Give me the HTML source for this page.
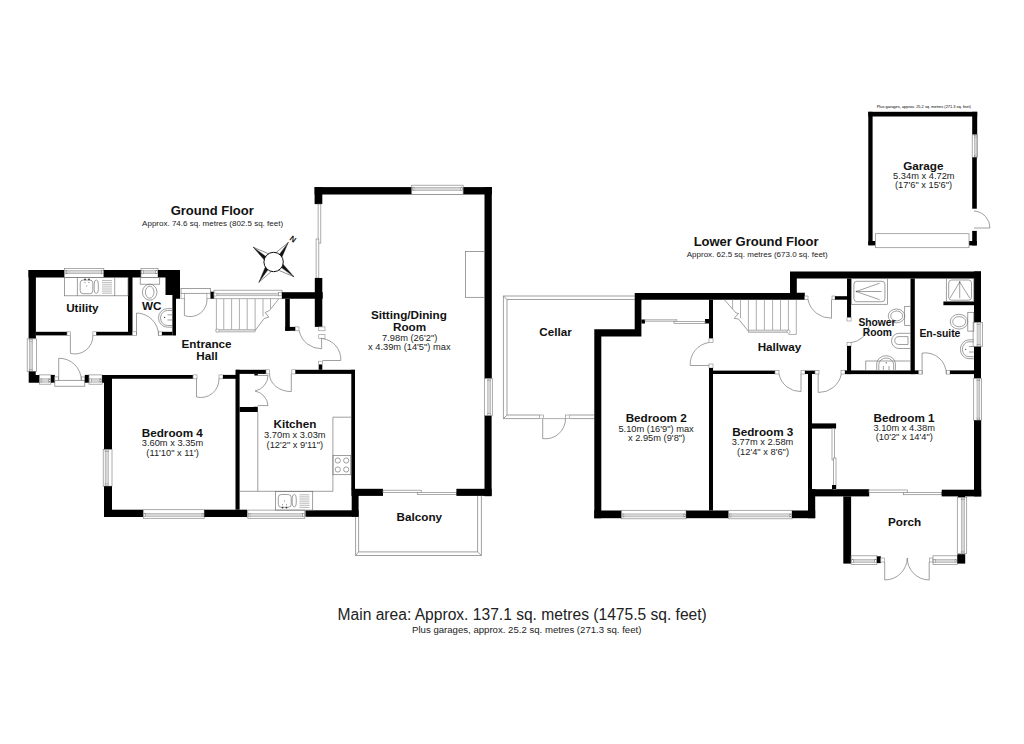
<!DOCTYPE html>
<html><head><meta charset="utf-8"><title>Floor plan</title>
<style>
html,body{margin:0;padding:0;background:#fff;width:1024px;height:744px;overflow:hidden}
svg{display:block}
text{font-family:"Liberation Sans",sans-serif}
.w{fill:#000}
.l{fill:none;stroke:#777;stroke-width:0.7}
.r2{rx:2px}
.r3{rx:3px}
.r2e{rx:2px;ry:4px}
.dr{fill:none;stroke:#999;stroke-width:0.7}
.wf{fill:#fff;stroke:#888;stroke-width:0.7}
.wi{fill:#d6d6d6;stroke:#999;stroke-width:0.5}
.jb{fill:#fff;stroke:#888;stroke-width:0.6}
.st{fill:none;stroke:#999;stroke-width:0.8}
</style></head>
<body>
<svg width="1024" height="744" viewBox="0 0 1024 744">
<rect width="1024" height="744" fill="#fff"/>
<rect x="28.50" y="270.00" width="36.00" height="7.50" class="w"/>
<rect x="64.50" y="268.60" width="39.30" height="8.90" class="wf"/>
<rect x="66.50" y="270.56" width="35.30" height="3.20" class="wi"/>
<rect x="65.10" y="270.56" width="1.6" height="3.20" class="jb"/>
<rect x="101.60" y="270.56" width="1.6" height="3.20" class="jb"/>
<rect x="103.80" y="270.00" width="37.20" height="7.50" class="w"/>
<rect x="141.00" y="268.60" width="17.00" height="8.90" class="wf"/>
<rect x="143.00" y="270.56" width="13.00" height="3.20" class="wi"/>
<rect x="141.60" y="270.56" width="1.6" height="3.20" class="jb"/>
<rect x="155.80" y="270.56" width="1.6" height="3.20" class="jb"/>
<path d="M158 270H180V298.75H176V335.4H172.4V295H165.5V277.5H158Z" class="w"/>
<rect x="28.60" y="270.00" width="7.30" height="68.80" class="w"/>
<rect x="128.00" y="277.00" width="4.50" height="58.40" class="w"/>
<rect x="35.90" y="331.80" width="31.10" height="3.60" class="w"/>
<rect x="67.00" y="331.80" width="3.40" height="3.60" class="jb"/>
<rect x="92.90" y="331.80" width="3.40" height="3.60" class="jb"/>
<rect x="96.30" y="331.80" width="31.70" height="3.60" class="w"/>
<path d="M70.40 335.40L70.40 353.40A18.00 18.00 0 0 0 92.90 335.40" class="l"/>
<rect x="132.50" y="331.80" width="4.00" height="3.60" class="jb"/>
<rect x="158.60" y="331.80" width="3.40" height="3.60" class="jb"/>
<rect x="162.00" y="331.80" width="10.40" height="3.60" class="w"/>
<path d="M136.50 335.40L136.50 313.00A22.40 22.40 0 0 1 158.60 335.40" class="l"/>
<rect x="64.50" y="277.50" width="63.50" height="18.30" class="l"/>
<path d="M77.4 277.5V295.8M114.7 277.5V295.8" class="l"/>
<rect x="80.20" y="280.00" width="12.60" height="13.70" class="l r3"/>
<rect x="94.20" y="280.00" width="4.10" height="13.40" class="l r2e"/>
<path d="M102 280.6H112 M102 282.7H112 M102 284.8H112 M102 286.9H112 M102 289.0H112 M102 291.1H112 M102 293.2H112" class="dr"/>
<circle cx="85" cy="279.4" r="0.9" fill="#333"/>
<circle cx="89" cy="279.4" r="0.9" fill="#333"/>
<circle cx="85" cy="282.3" r="0.5" fill="#555"/>
<circle cx="89" cy="282.3" r="0.5" fill="#555"/>
<circle cx="86.8" cy="286" r="0.5" fill="#555"/>
<rect x="140.20" y="277.50" width="19.50" height="6.70" class="l"/>
<ellipse cx="149.7" cy="292.2" rx="7.3" ry="8" class="l"/>
<ellipse cx="149.7" cy="292.2" rx="4.3" ry="6" class="l"/>
<path d="M172.1 308.6H167.5A9 9.3 0 0 0 167.5 327.2H172.1" class="l"/>
<path d="M172.1 310.5H167.5A7 7.5 0 0 0 167.5 325.5H172.1" class="l"/>
<circle cx="164.6" cy="317.4" r="0.6" fill="#333"/>
<path d="M167.5 314.8H172M167.5 320H172" class="l"/>
<rect x="27.20" y="338.80" width="9.20" height="32.70" class="wf"/>
<rect x="29.22" y="340.80" width="3.31" height="28.70" class="wi"/>
<rect x="29.22" y="339.40" width="3.31" height="1.6" class="jb"/>
<rect x="29.22" y="369.30" width="3.31" height="1.6" class="jb"/>
<path d="M28.7 371.5H35.7V374.9H39.6V382.7H28.7Z" class="w"/>
<rect x="39.60" y="374.90" width="11.30" height="9.30" class="wf"/>
<rect x="41.60" y="378.81" width="7.30" height="3.35" class="wi"/>
<rect x="40.20" y="378.81" width="1.6" height="3.35" class="jb"/>
<rect x="48.70" y="378.81" width="1.6" height="3.35" class="jb"/>
<rect x="50.90" y="374.90" width="3.90" height="7.80" class="w"/>
<rect x="54.80" y="380.30" width="30.00" height="5.90" class="l"/>
<rect x="54.80" y="376.90" width="3.50" height="3.40" class="jb"/>
<rect x="81.30" y="376.90" width="3.50" height="3.40" class="jb"/>
<path d="M58.70 380.30L58.70 358.30A22.00 22.00 0 0 1 81.30 380.30" class="l"/>
<rect x="84.80" y="374.90" width="4.20" height="7.80" class="w"/>
<rect x="89.00" y="374.90" width="13.10" height="9.30" class="wf"/>
<rect x="91.00" y="378.81" width="9.10" height="3.35" class="wi"/>
<rect x="89.60" y="378.81" width="1.6" height="3.35" class="jb"/>
<rect x="99.90" y="378.81" width="1.6" height="3.35" class="jb"/>
<path d="M102.1 374.9H193V378.8H112V449.5H104V382.7H102.1Z" class="w"/>
<rect x="103.20" y="449.50" width="8.80" height="36.70" class="wf"/>
<rect x="105.14" y="451.50" width="3.17" height="32.70" class="wi"/>
<rect x="105.14" y="450.10" width="3.17" height="1.6" class="jb"/>
<rect x="105.14" y="484.00" width="3.17" height="1.6" class="jb"/>
<rect x="104.00" y="486.20" width="8.00" height="30.80" class="w"/>
<rect x="193.00" y="374.90" width="4.00" height="3.90" class="jb"/>
<rect x="219.00" y="374.90" width="4.00" height="3.90" class="jb"/>
<rect x="223.00" y="374.90" width="13.00" height="3.90" class="w"/>
<path d="M196.50 378.80L196.50 397.00A18.20 18.20 0 0 0 219.00 378.80" class="l"/>
<rect x="104.00" y="509.70" width="39.30" height="7.30" class="w"/>
<rect x="143.30" y="509.70" width="61.00" height="8.60" class="wf"/>
<rect x="145.30" y="513.31" width="57.00" height="3.10" class="wi"/>
<rect x="143.90" y="513.31" width="1.6" height="3.10" class="jb"/>
<rect x="202.10" y="513.31" width="1.6" height="3.10" class="jb"/>
<rect x="204.30" y="509.70" width="42.90" height="7.30" class="w"/>
<rect x="247.80" y="510.10" width="57.00" height="8.20" class="wf"/>
<rect x="249.80" y="513.54" width="53.00" height="2.95" class="wi"/>
<rect x="248.40" y="513.54" width="1.6" height="2.95" class="jb"/>
<rect x="302.60" y="513.54" width="1.6" height="2.95" class="jb"/>
<rect x="305.50" y="510.30" width="53.10" height="6.50" class="w"/>
<rect x="235.50" y="369.80" width="4.10" height="139.90" class="w"/>
<rect x="236.00" y="369.80" width="30.00" height="4.10" class="w"/>
<rect x="254.40" y="373.90" width="3.40" height="1.60" class="w"/>
<rect x="266.00" y="369.80" width="3.50" height="4.10" class="jb"/>
<rect x="291.80" y="369.80" width="3.60" height="4.10" class="jb"/>
<rect x="295.40" y="369.80" width="59.20" height="4.10" class="w"/>
<path d="M291.3 373.9V391.6A21.8 17.7 0 0 1 269.5 373.9" class="l"/>
<rect x="351.30" y="369.80" width="3.70" height="119.70" class="w"/>
<path d="M239.6 407H253.7V406.7H257.8V412.1H239.6Z" class="w"/>
<path d="M257.8 375.5H268A16 16 0 0 1 255 391M257.8 405.6H268A16 16 0 0 0 255 391" class="l"/>
<path d="M257.8 412.1V491.3M239.6 491.3H332.9V417.2H351.3" class="l"/>
<rect x="333.00" y="455.50" width="17.80" height="19.20" class="l"/>
<circle cx="337.8" cy="460.5" r="2.6" class="l"/>
<circle cx="337.8" cy="469.5" r="2.6" class="l"/>
<circle cx="346.2" cy="460.5" r="2.6" class="l"/>
<circle cx="346.2" cy="469.5" r="2.6" class="l"/>
<rect x="275.50" y="491.60" width="37.20" height="18.50" class="l"/>
<rect x="278.30" y="494.50" width="12.90" height="12.80" class="l r3"/>
<rect x="292.20" y="494.50" width="4.05" height="12.50" class="l r2e"/>
<path d="M299.4 494.8H309.5 M299.4 496.9H309.5 M299.4 499.0H309.5 M299.4 501.1H309.5 M299.4 503.2H309.5 M299.4 505.3H309.5 M299.4 507.4H309.5" class="dr"/>
<circle cx="282.5" cy="507.6" r="0.9" fill="#333"/>
<circle cx="282.5" cy="504.8" r="0.5" fill="#555"/>
<circle cx="286.5" cy="507.6" r="0.9" fill="#333"/>
<circle cx="286.5" cy="504.8" r="0.5" fill="#555"/>
<circle cx="284.5" cy="501" r="0.5" fill="#555"/>
<rect x="314.60" y="187.10" width="177.20" height="7.40" class="w"/>
<rect x="411.70" y="185.20" width="51.40" height="9.30" class="wf"/>
<rect x="413.70" y="187.25" width="47.40" height="3.35" class="wi"/>
<rect x="412.30" y="187.25" width="1.6" height="3.35" class="jb"/>
<rect x="460.90" y="187.25" width="1.6" height="3.35" class="jb"/>
<rect x="314.60" y="187.10" width="7.70" height="17.00" class="w"/>
<rect x="318.10" y="204.10" width="2.70" height="39.00" class="wf"/>
<rect x="316.10" y="239.00" width="2.70" height="39.00" class="wf"/>
<rect x="314.80" y="278.00" width="7.50" height="48.90" class="w"/>
<rect x="484.50" y="187.10" width="7.30" height="191.50" class="w"/>
<rect x="484.50" y="378.60" width="7.80" height="37.20" class="wf"/>
<rect x="487.78" y="380.60" width="2.81" height="33.20" class="wi"/>
<rect x="487.78" y="379.20" width="2.81" height="1.6" class="jb"/>
<rect x="487.78" y="413.60" width="2.81" height="1.6" class="jb"/>
<rect x="484.50" y="415.80" width="7.10" height="80.40" class="w"/>
<rect x="465.50" y="251.60" width="19.00" height="45.70" class="l"/>
<rect x="351.50" y="488.80" width="31.50" height="7.10" class="w"/>
<rect x="351.70" y="489.00" width="6.90" height="27.80" class="w"/>
<rect x="383.00" y="490.20" width="38.20" height="2.20" class="wf"/>
<rect x="417.30" y="492.40" width="39.10" height="2.10" class="wf"/>
<rect x="456.40" y="488.80" width="35.20" height="7.10" class="w"/>
<path d="M355.6 516.8V555.5H481.4V495.8M358.6 516.8V551.9H477.6V495.8M355.6 555.5L358.6 551.9M481.4 555.5L477.6 551.9" class="l"/>
<rect x="181.00" y="288.60" width="29.60" height="4.70" class="l"/>
<rect x="181.00" y="293.30" width="3.70" height="5.45" class="jb"/>
<rect x="206.90" y="293.30" width="3.70" height="5.45" class="jb"/>
<path d="M184.40 298.75L184.40 315.60A16.85 16.85 0 0 0 207.00 298.75" class="l"/>
<rect x="210.60" y="291.70" width="3.40" height="7.05" class="w"/>
<rect x="214.00" y="290.20" width="68.00" height="8.55" class="wf"/>
<rect x="216.00" y="293.20" width="64.00" height="2.60" class="wi"/>
<path d="M216.4 298.75V330.8" class="st"/>
<path d="M223.75 298.75V330.8" class="st"/>
<path d="M231.6 298.75V330.8" class="st"/>
<path d="M239.4 298.75V330.8" class="st"/>
<path d="M247.2 298.75V330.8" class="st"/>
<path d="M255.1 298.75V330.6" class="st"/>
<path d="M263 298.75V316.5" class="st"/>
<path d="M270.5 298.75V308.8" class="st"/>
<rect x="216.00" y="329.30" width="39.10" height="2.70" class="wi"/>
<circle cx="217.5" cy="330.6" r="1.6" class="jb"/>
<circle cx="215.5" cy="294.5" r="1.6" class="jb"/>
<rect x="278.6" y="292.4" width="3" height="3.4" class="jb"/>
<path d="M278.6 299.1L269.5 310.5L265.1 312.5L268.8 317.2L264.1 318.5L255.1 330.6" class="l"/>
<rect x="282.00" y="292.20" width="40.70" height="6.55" class="w"/>
<rect x="285.20" y="298.75" width="4.60" height="32.05" class="w"/>
<rect x="285.20" y="326.90" width="10.10" height="3.90" class="w"/>
<rect x="295.30" y="326.90" width="3.70" height="3.90" class="jb"/>
<rect x="318.75" y="326.90" width="6.25" height="3.90" class="jb"/>
<rect x="318.75" y="334.70" width="6.25" height="3.90" class="jb"/>
<path d="M299.2 330.8A22.5 22.5 0 0 0 321.6 348.75V337.8" class="l"/>
<path d="M322.5 338.6A21 21 0 0 1 340.8 360.5H322.5" class="l"/>
<rect x="318.70" y="361.20" width="3.60" height="3.40" class="jb"/>
<rect x="318.70" y="364.60" width="3.60" height="5.20" class="w"/>
<g><path d="M253.30 247.30L265.47 261.30L267.93 257.89Z" fill="#111" stroke="#111" stroke-width="0.4"/><path d="M253.30 247.30L270.39 254.49L267.93 257.89Z" fill="#fff" stroke="#222" stroke-width="0.5"/><path d="M288.30 242.40L281.16 258.92L277.80 256.40Z" fill="#111" stroke="#111" stroke-width="0.4"/><path d="M288.30 242.40L274.44 253.88L277.80 256.40Z" fill="#fff" stroke="#222" stroke-width="0.5"/><path d="M293.90 276.70L281.73 262.70L279.27 266.11Z" fill="#111" stroke="#111" stroke-width="0.4"/><path d="M293.90 276.70L276.81 269.51L279.27 266.11Z" fill="#fff" stroke="#222" stroke-width="0.5"/><path d="M258.90 282.30L266.09 265.21L269.49 267.67Z" fill="#111" stroke="#111" stroke-width="0.4"/><path d="M258.90 282.30L272.90 270.13L269.49 267.67Z" fill="#fff" stroke="#222" stroke-width="0.5"/><circle cx="273.6" cy="262.0" r="9.7" fill="#fff" stroke="#111" stroke-width="1"/></g>
<text x="0" y="0" font-size="8" font-weight="bold" fill="#111" text-anchor="middle" transform="translate(291.3 241.2) rotate(37)">N</text>
<path d="M503.4 296H634.7M507 299.5H634.7M503.4 296V418.6H539.4M569.5 418.6H594.3M507 299.5V415H539.4M569.5 415H594.3M503.4 296L507 299.5M503.4 418.6L507 415" class="l"/>
<rect x="539.40" y="415.00" width="4.10" height="3.60" class="jb"/>
<rect x="565.50" y="415.00" width="4.00" height="3.60" class="jb"/>
<path d="M543.5 418.6H565.5" class="st"/>
<path d="M542.70 418.60L542.70 438.60A20.00 20.00 0 0 0 565.50 418.60" class="l"/>
<path d="M594.3 329.2H634.7V292.9H790V271.5H981V278.5H796.8V292.7H804.8V299.7H641.4V336.6H601.3V518.2H594.3Z" class="w"/>
<rect x="594.30" y="510.50" width="27.30" height="7.70" class="w"/>
<rect x="621.60" y="510.30" width="64.50" height="8.50" class="wf"/>
<rect x="623.60" y="513.87" width="60.50" height="3.06" class="wi"/>
<rect x="622.20" y="513.87" width="1.6" height="3.06" class="jb"/>
<rect x="683.90" y="513.87" width="1.6" height="3.06" class="jb"/>
<rect x="686.10" y="510.50" width="42.60" height="7.70" class="w"/>
<rect x="728.70" y="510.30" width="63.30" height="8.50" class="wf"/>
<rect x="730.70" y="513.87" width="59.30" height="3.06" class="wi"/>
<rect x="729.30" y="513.87" width="1.6" height="3.06" class="jb"/>
<rect x="789.80" y="513.87" width="1.6" height="3.06" class="jb"/>
<rect x="792.00" y="510.50" width="23.20" height="7.70" class="w"/>
<rect x="641.40" y="319.50" width="3.60" height="4.00" class="w"/>
<rect x="705.00" y="319.00" width="4.00" height="4.50" class="w"/>
<rect x="645.00" y="319.50" width="32.00" height="2.00" class="wi"/>
<rect x="674.00" y="321.50" width="31.00" height="2.00" class="wf"/>
<rect x="709.00" y="299.70" width="4.00" height="38.80" class="w"/>
<rect x="709.00" y="338.50" width="4.00" height="4.00" class="jb"/>
<rect x="709.00" y="364.00" width="4.00" height="4.00" class="jb"/>
<rect x="709.00" y="368.00" width="4.00" height="142.50" class="w"/>
<path d="M709 342.5A22 22 0 0 0 690.2 365.5H709" class="l"/>
<path d="M732.6 299.7V308.9" class="st"/>
<path d="M740.5 299.7V318.1" class="st"/>
<path d="M748.4 299.7V331.3" class="st"/>
<path d="M756.3 299.7V331.3" class="st"/>
<path d="M764.4 299.7V331.3" class="st"/>
<path d="M772.6 299.7V331.3" class="st"/>
<path d="M780.5 299.7V331.3" class="st"/>
<path d="M788.4 299.7V331.3" class="st"/>
<rect x="748.40" y="330.00" width="40.00" height="2.60" class="wi"/>
<path d="M788.4 334.4H796.3V299.7" class="st"/>
<circle cx="788.6" cy="331.6" r="1.6" class="jb"/>
<path d="M724.2 299.5L736.1 313L738.5 313.5L734.2 318.3L738.5 319L748.4 331.3" class="l"/>
<rect x="804.80" y="296.00" width="3.20" height="3.70" class="jb"/>
<rect x="832.00" y="296.00" width="3.00" height="3.70" class="jb"/>
<rect x="835.00" y="296.20" width="12.00" height="3.50" class="w"/>
<path d="M808 299.7A23.5 23.5 0 0 0 831.5 318.2V299.7" class="l"/>
<rect x="847.00" y="278.50" width="4.10" height="39.10" class="w"/>
<rect x="847.00" y="317.60" width="4.10" height="3.40" class="jb"/>
<rect x="847.00" y="342.60" width="4.10" height="3.40" class="jb"/>
<rect x="847.00" y="346.00" width="4.10" height="28.10" class="w"/>
<path d="M851.1 342.6A21 21 0 0 0 869 326.5" class="l"/>
<rect x="910.50" y="278.50" width="4.30" height="95.60" class="w"/>
<rect x="974.00" y="271.40" width="7.00" height="51.10" class="w"/>
<rect x="973.10" y="322.40" width="9.40" height="24.20" class="wf"/>
<rect x="977.05" y="324.40" width="3.38" height="20.20" class="wi"/>
<rect x="977.05" y="323.00" width="3.38" height="1.6" class="jb"/>
<rect x="977.05" y="344.40" width="3.38" height="1.6" class="jb"/>
<rect x="974.00" y="346.70" width="7.00" height="31.80" class="w"/>
<rect x="973.70" y="378.50" width="7.80" height="41.80" class="wf"/>
<rect x="976.98" y="380.50" width="2.81" height="37.80" class="wi"/>
<rect x="976.98" y="379.10" width="2.81" height="1.6" class="jb"/>
<rect x="976.98" y="418.10" width="2.81" height="1.6" class="jb"/>
<rect x="974.00" y="420.30" width="7.20" height="76.10" class="w"/>
<rect x="943.40" y="301.50" width="30.60" height="3.70" class="w"/>
<rect x="713.00" y="370.60" width="62.00" height="3.40" class="w"/>
<rect x="775.00" y="370.60" width="4.00" height="3.40" class="jb"/>
<path d="M779 374A22 22 0 0 0 801 391.6V374" class="l"/>
<rect x="801.00" y="370.60" width="4.00" height="3.40" class="jb"/>
<rect x="805.00" y="370.60" width="10.00" height="3.40" class="w"/>
<rect x="808.00" y="374.00" width="4.00" height="115.50" class="w"/>
<rect x="815.00" y="370.60" width="4.00" height="3.40" class="jb"/>
<path d="M818.2 374V392.5A23 23 0 0 0 841.4 374" class="l"/>
<rect x="841.00" y="370.60" width="4.00" height="3.40" class="jb"/>
<rect x="845.00" y="370.40" width="73.80" height="3.70" class="w"/>
<rect x="918.80" y="370.40" width="3.40" height="3.70" class="jb"/>
<rect x="946.30" y="370.40" width="3.70" height="3.70" class="jb"/>
<rect x="950.00" y="370.40" width="24.00" height="3.70" class="w"/>
<path d="M922.10 374.10L922.10 353.10A21.00 21.00 0 0 1 946.30 374.10" class="l"/>
<rect x="851.30" y="278.50" width="36.20" height="25.80" class="l"/>
<rect x="853.90" y="281.30" width="31.00" height="20.40" class="l r3"/>
<path d="M856.2 291.5L879.6 283.2M856.2 291.5L879.6 299.7M856.2 291.5H881.6" class="l"/>
<circle cx="856.4" cy="291.5" r="0.7" fill="#555"/>
<rect x="904.70" y="306.30" width="5.80" height="19.10" class="l"/>
<ellipse cx="896.5" cy="315.9" rx="8.25" ry="6.9" class="l"/>
<ellipse cx="896.7" cy="315.9" rx="6" ry="4.9" class="l"/>
<path d="M910.5 333.3H899A7.5 7.6 0 0 0 899 348.5H910.5" class="l"/>
<path d="M908 336.6H899A4.2 3.95 0 0 0 899 344.5H908Z" class="l"/>
<rect x="865.80" y="361.00" width="44.70" height="9.40" class="l"/>
<path d="M876.7 370.4V364A9.35 8.3 0 0 1 895.4 364V370.4" class="l"/>
<path d="M878.8 370.4V364.5A7.4 6.5 0 0 1 893.6 364.5V370.4" class="l"/>
<circle cx="886.2" cy="362.8" r="0.6" fill="#333"/>
<path d="M883.4 366V370.4M889 366V370.4" class="l"/>
<rect x="946.30" y="278.50" width="27.50" height="23.00" class="l"/>
<rect x="948.70" y="280.00" width="22.80" height="20.20" class="l r3"/>
<path d="M959.7 282L950 298.2M959.7 282V298.2M959.7 282L969.8 298.2" class="l"/>
<circle cx="959.7" cy="282" r="0.7" fill="#555"/>
<rect x="967.80" y="312.30" width="6.00" height="18.80" class="l"/>
<ellipse cx="959" cy="321.7" rx="8.75" ry="7.4" class="l"/>
<ellipse cx="959.2" cy="321.7" rx="6.5" ry="5.1" class="l"/>
<path d="M973.8 339.8H969A8.6 9.45 0 0 0 969 358.7H973.8" class="l"/>
<path d="M973.8 341.8H969A6.6 7.45 0 0 0 969 356.7H973.8" class="l"/>
<circle cx="965.7" cy="349.3" r="0.6" fill="#333"/>
<path d="M969 346.5H973.8M969 352H973.8" class="l"/>
<rect x="808.00" y="489.20" width="61.20" height="7.20" class="w"/>
<rect x="808.00" y="489.20" width="7.20" height="29.00" class="w"/>
<rect x="869.00" y="490.00" width="38.30" height="2.50" class="wf"/>
<rect x="903.40" y="492.50" width="38.30" height="2.20" class="wf"/>
<rect x="941.70" y="489.70" width="39.55" height="6.70" class="w"/>
<rect x="958.00" y="496.00" width="7.00" height="1.50" class="w"/>
<rect x="812.00" y="423.40" width="24.10" height="5.20" class="w"/>
<rect x="832.00" y="428.60" width="2.50" height="31.40" class="wf"/>
<rect x="833.50" y="458.00" width="2.50" height="31.20" class="wf"/>
<rect x="832.00" y="485.00" width="4.00" height="4.20" class="w"/>
<rect x="843.30" y="496.40" width="7.80" height="67.20" class="w"/>
<rect x="851.10" y="555.80" width="25.80" height="8.60" class="wf"/>
<rect x="853.10" y="559.41" width="21.80" height="3.10" class="wi"/>
<rect x="851.70" y="559.41" width="1.6" height="3.10" class="jb"/>
<rect x="874.70" y="559.41" width="1.6" height="3.10" class="jb"/>
<rect x="876.90" y="556.25" width="3.90" height="6.85" class="w"/>
<rect x="880.80" y="558.00" width="3.70" height="4.00" class="jb"/>
<rect x="929.50" y="558.00" width="3.50" height="4.00" class="jb"/>
<path d="M884.7 562V580A22.6 22.6 0 0 0 907.3 558M929.2 562V580A22 22 0 0 1 907.3 558" class="l"/>
<rect x="933.00" y="555.80" width="24.30" height="8.60" class="wf"/>
<rect x="935.00" y="559.41" width="20.30" height="3.10" class="wi"/>
<rect x="933.60" y="559.41" width="1.6" height="3.10" class="jb"/>
<rect x="955.10" y="559.41" width="1.6" height="3.10" class="jb"/>
<rect x="957.30" y="554.20" width="7.90" height="9.40" class="w"/>
<rect x="957.30" y="497.50" width="9.40" height="55.90" class="wf"/>
<rect x="961.25" y="499.50" width="3.38" height="51.90" class="wi"/>
<rect x="961.25" y="498.10" width="3.38" height="1.6" class="jb"/>
<rect x="961.25" y="551.20" width="3.38" height="1.6" class="jb"/>
<rect x="868.30" y="111.80" width="108.90" height="4.70" class="w"/>
<rect x="868.30" y="111.80" width="4.30" height="133.30" class="w"/>
<rect x="972.20" y="111.80" width="5.00" height="23.00" class="w"/>
<rect x="972.20" y="134.80" width="5.40" height="22.60" class="wf"/>
<rect x="974.47" y="136.80" width="1.94" height="18.60" class="wi"/>
<rect x="974.47" y="135.40" width="1.94" height="1.6" class="jb"/>
<rect x="974.47" y="155.20" width="1.94" height="1.6" class="jb"/>
<rect x="972.20" y="157.40" width="4.60" height="51.30" class="w"/>
<path d="M974 211A17 17 0 0 1 990 228H974" class="l"/>
<rect x="972.20" y="230.90" width="4.60" height="14.50" class="w"/>
<rect x="868.30" y="241.00" width="108.50" height="4.40" class="w"/>
<rect x="875.4" y="233.7" width="93.6" height="14" class="wf"/>
<g text-anchor="middle">
<text x="82.4" y="312.25" font-size="11.7" font-weight="bold" fill="#111">Utility</text>
<text x="151.7" y="309.75" font-size="11.7" font-weight="bold" fill="#111">WC</text>
<text x="206.6" y="348.35" font-size="11.7" font-weight="bold" fill="#111">Entrance</text>
<text x="207" y="360.05" font-size="11.7" font-weight="bold" fill="#111">Hall</text>
<text x="408.9" y="319.15" font-size="11.7" font-weight="bold" fill="#111">Sitting/Dining</text>
<text x="409.5" y="330.85" font-size="11.7" font-weight="bold" fill="#111">Room</text>
<text x="409.7" y="340.65" font-size="9.3" font-weight="normal" fill="#222">7.98m (26'2&quot;)</text>
<text x="409.3" y="350.35" font-size="9.3" font-weight="normal" fill="#222">x 4.39m (14'5&quot;) max</text>
<text x="172.3" y="436.65" font-size="11.7" font-weight="bold" fill="#111">Bedroom 4</text>
<text x="172.5" y="446.35" font-size="9.3" font-weight="normal" fill="#222">3.60m x 3.35m</text>
<text x="172.6" y="455.85" font-size="9.3" font-weight="normal" fill="#222">(11'10&quot; x 11')</text>
<text x="294.9" y="427.85" font-size="11.7" font-weight="bold" fill="#111">Kitchen</text>
<text x="294.85" y="438.15" font-size="9.3" font-weight="normal" fill="#222">3.70m x 3.03m</text>
<text x="294.8" y="447.55" font-size="9.3" font-weight="normal" fill="#222">(12'2&quot; x 9'11&quot;)</text>
<text x="419.35" y="520.75" font-size="11.7" font-weight="bold" fill="#111">Balcony</text>
<text x="555.5" y="335.75" font-size="11.7" font-weight="bold" fill="#111">Cellar</text>
<text x="656.2" y="422.35" font-size="11.7" font-weight="bold" fill="#111">Bedroom 2</text>
<text x="656.1" y="432.25" font-size="9.3" font-weight="normal" fill="#222">5.10m (16'9&quot;) max</text>
<text x="656.6" y="441.15" font-size="9.3" font-weight="normal" fill="#222">x 2.95m (9'8&quot;)</text>
<text x="779.4" y="350.55" font-size="11.7" font-weight="bold" fill="#111">Hallway</text>
<text x="877" y="325.75" font-size="10.3" font-weight="bold" fill="#111">Shower</text>
<text x="877.4" y="335.75" font-size="10.3" font-weight="bold" fill="#111">Room</text>
<text x="939.9" y="337.15" font-size="10.4" font-weight="bold" fill="#111">En-suite</text>
<text x="762.8" y="435.85" font-size="11.7" font-weight="bold" fill="#111">Bedroom 3</text>
<text x="762.6" y="445.15" font-size="9.3" font-weight="normal" fill="#222">3.77m x 2.58m</text>
<text x="763" y="454.55" font-size="9.3" font-weight="normal" fill="#222">(12'4&quot; x 8'6&quot;)</text>
<text x="904" y="421.55" font-size="11.7" font-weight="bold" fill="#111">Bedroom 1</text>
<text x="904.2" y="430.85" font-size="9.3" font-weight="normal" fill="#222">3.10m x 4.38m</text>
<text x="904.3" y="440.15" font-size="9.3" font-weight="normal" fill="#222">(10'2&quot; x 14'4&quot;)</text>
<text x="904.6" y="526.45" font-size="11.7" font-weight="bold" fill="#111">Porch</text>
<text x="923.3" y="169.55" font-size="11.7" font-weight="bold" fill="#111">Garage</text>
<text x="923.85" y="179.25" font-size="9.3" font-weight="normal" fill="#222">5.34m x 4.72m</text>
<text x="923.6" y="188.15" font-size="9.3" font-weight="normal" fill="#222">(17'6&quot; x 15'6&quot;)</text>
<text x="923.8" y="107.95" font-size="3.95" font-weight="normal" fill="#000">Plus garages, approx. 25.2 sq. metres (271.3 sq. feet)</text>
<text x="212.2" y="215.15" font-size="13" font-weight="bold" fill="#111">Ground Floor</text>
<text x="212.6" y="225.75" font-size="8.0" font-weight="normal" fill="#222">Approx. 74.6 sq. metres (802.5 sq. feet)</text>
<text x="756.1" y="245.55" font-size="13" font-weight="bold" fill="#111">Lower Ground Floor</text>
<text x="757.25" y="256.85" font-size="8.0" font-weight="normal" fill="#222">Approx. 62.5 sq. metres (673.0 sq. feet)</text>
<text x="522.2" y="619.85" font-size="15.6" font-weight="normal" fill="#222">Main area: Approx. 137.1 sq. metres (1475.5 sq. feet)</text>
<text x="526.75" y="632.55" font-size="9.6" font-weight="normal" fill="#222">Plus garages, approx. 25.2 sq. metres (271.3 sq. feet)</text>
</g>
</svg>
</body></html>
